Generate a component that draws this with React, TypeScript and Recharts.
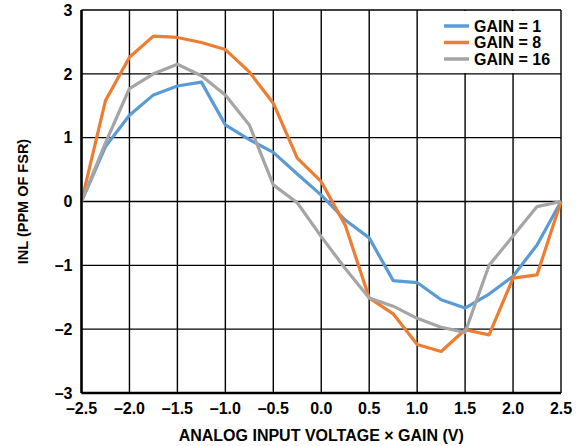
import React from 'react';
import { LineChart, Line, XAxis, YAxis, CartesianGrid, Legend } from 'recharts';

const xValues = [-2.5, -2.25, -2, -1.75, -1.5, -1.25, -1, -0.75, -0.5, -0.25, 0, 0.25, 0.5, 0.75, 1, 1.25, 1.5, 1.75, 2, 2.25, 2.5];
const gain1 = [0, 0.86, 1.35, 1.67, 1.81, 1.87, 1.2, 0.97, 0.77, 0.43, 0.1, -0.29, -0.57, -1.24, -1.27, -1.54, -1.67, -1.45, -1.17, -0.68, 0];
const gain8 = [0, 1.58, 2.26, 2.59, 2.57, 2.49, 2.38, 2.03, 1.54, 0.68, 0.31, -0.37, -1.51, -1.76, -2.24, -2.35, -2.01, -2.09, -1.2, -1.15, 0];
const gain16 = [0, 0.92, 1.77, 2.0, 2.15, 1.97, 1.67, 1.2, 0.26, -0.02, -0.55, -1.05, -1.51, -1.64, -1.83, -1.97, -2.05, -1.0, -0.54, -0.08, 0];
const xTicks = [-2.5, -2, -1.5, -1, -0.5, 0, 0.5, 1, 1.5, 2, 2.5];
const yTicks = [-3, -2, -1, 0, 1, 2, 3];
const seriesKeys = ['g1', 'g8', 'g16'];
const seriesNames = ['GAIN = 1', 'GAIN = 8', 'GAIN = 16'];
const seriesColors = ['#5b9bd5', '#ed7d31', '#a5a5a5'];

const data = xValues.map((x, i) => ({ x, g1: gain1[i], g8: gain8[i], g16: gain16[i] }));

const FONT = '"Liberation Sans", Arial, sans-serif';
const dash = (v: number, digits: number) => {
  const s = Math.abs(v).toFixed(digits);
  return v < 0 ? '\u2013' + s : s;
};

const LegendContent = () => (
  <svg width={136} height={62} style={{ display: 'block' }}>
    {seriesNames.map((name, i) => (
      <g key={name}>
        <line x1={20} x2={45} y1={15 + i * 16.5} y2={15 + i * 16.5} stroke={seriesColors[i]} strokeWidth={3.5} />
        <text x={50} y={20.8 + i * 16.5} fontFamily={FONT} fontWeight="bold" fontSize={16} fill="#000">
          {name}
        </text>
      </g>
    ))}
  </svg>
);

export default function App() {
  return (
    <div style={{ position: 'absolute', left: 0, top: 0, background: '#fff' }}>
      <LineChart width={586} height={446} data={data} margin={{ top: 10, right: 25, bottom: 0, left: 0 }}>
        <CartesianGrid stroke="#000" strokeWidth={1.4} />
        <XAxis
          dataKey="x"
          type="number"
          domain={[-2.5, 2.5]}
          ticks={xTicks}
          tickFormatter={(v: number) => dash(v, 1)}
          height={53}
          tickSize={0}
          tickMargin={10}
          axisLine={{ stroke: '#000', strokeWidth: 2.5 }}
          tickLine={false}
          tick={{ fill: '#000', fontFamily: FONT, fontWeight: 'bold', fontSize: 16 }}
          interval={0}
          label={{
            content: (p: any) => {
              const vb = p.viewBox;
              return (
                <text x={vb.x + vb.width / 2} y={vb.y + 47.5} textAnchor="middle" fontFamily={FONT} fontWeight="bold" fontSize={16} fill="#000">
                  ANALOG INPUT VOLTAGE × GAIN (V)
                </text>
              );
            },
          }}
        />
        <YAxis
          type="number"
          domain={[-3, 3]}
          ticks={yTicks}
          tickFormatter={(v: number) => dash(v, 0)}
          width={81.5}
          tickSize={0}
          tickMargin={9}
          axisLine={{ stroke: '#000', strokeWidth: 2.5 }}
          tickLine={false}
          tick={{ fill: '#000', fontFamily: FONT, fontWeight: 'bold', fontSize: 16 }}
          interval={0}
          label={{
            content: (p: any) => {
              const vb = p.viewBox;
              const cx = 28;
              const cy = vb.y + vb.height / 2;
              return (
                <text x={cx} y={cy} transform={`rotate(-90 ${cx} ${cy})`} textAnchor="middle" fontFamily={FONT} fontWeight="bold" fontSize={14.5} fill="#000">
                  INL (PPM OF FSR)
                </text>
              );
            },
          }}
        />
        <Legend
          layout="vertical"
          align="center"
          verticalAlign="middle"
          content={<LegendContent />}
          wrapperStyle={{ top: 11, left: 424, width: 136, height: 62, background: '#fff' }}
        />
        {seriesKeys.map((k, i) => (
          <Line
            key={k}
            dataKey={k}
            name={seriesNames[i]}
            stroke={seriesColors[i]}
            strokeWidth={3.2}
            dot={false}
            isAnimationActive={false}
            strokeLinejoin="round"
          />
        ))}
      </LineChart>
    </div>
  );
}
